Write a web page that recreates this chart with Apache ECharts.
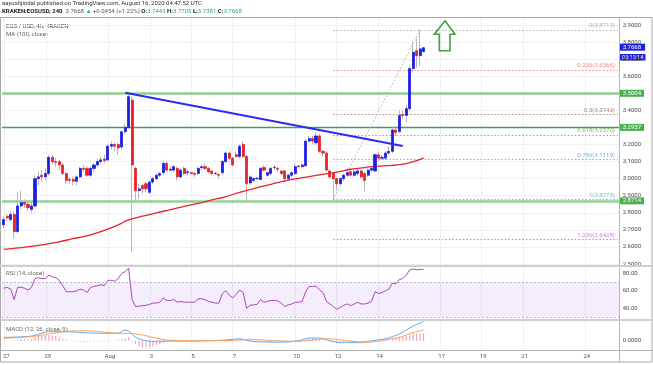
<!DOCTYPE html>
<html><head><meta charset="utf-8">
<script src="https://cdn.jsdelivr.net/npm/echarts/dist/echarts.min.js"></script>
<style>html,body{margin:0;padding:0;background:#fff}#c{width:653px;height:365px}</style>
</head><body><div id="c"></div>
<script>
// ---- DATA ----
// 4h candles from Jul 27 00:00 to Aug 16 04:00 (UTC): [open, close, low, high]
const candles = [
[2.73,2.76,2.71,2.78],[2.78,2.77,2.75,2.79],[2.76,2.79,2.75,2.81],[2.79,2.69,2.65,2.81],[2.69,2.84,2.68,2.92],
[2.84,2.86,2.82,2.93],[2.86,2.85,2.83,2.88],[2.85,2.83,2.81,2.87],[2.82,2.84,2.80,2.86],[2.84,3.00,2.83,3.02],
[3.00,3.01,2.96,3.04],[3.02,3.01,2.98,3.05],[3.01,3.03,2.99,3.06],[3.03,3.125,3.02,3.14],[3.125,3.10,3.08,3.14],
[3.10,3.095,3.07,3.12],[3.10,3.08,3.05,3.11],[3.08,3.03,3.02,3.09],[3.03,2.99,2.97,3.04],[2.995,2.99,2.97,3.01],
[2.995,2.985,2.96,3.01],[2.985,3.01,2.96,3.02],[3.01,3.06,3.00,3.07],[3.06,3.055,3.04,3.08],[3.06,3.02,3.01,3.07],
[3.02,3.06,3.01,3.07],[3.06,3.08,3.04,3.09],[3.08,3.10,3.07,3.12],[3.10,3.11,3.09,3.13],[3.115,3.105,3.09,3.14],
[3.11,3.19,3.10,3.20],[3.19,3.20,3.17,3.22],[3.20,3.19,3.16,3.21],[3.20,3.18,3.14,3.21],[3.185,3.275,3.17,3.28],
[3.275,3.30,3.26,3.32],[3.30,3.48,3.29,3.50],[3.46,3.08,2.57,3.48],[3.06,2.93,2.86,3.07],[2.93,2.94,2.88,2.97],
[2.96,2.94,2.91,2.97],[2.97,2.94,2.92,2.98],[2.92,2.98,2.91,2.99],[2.98,3.00,2.97,3.01],[3.00,3.02,2.99,3.03],
[3.02,3.03,3.01,3.04],[3.035,3.09,3.02,3.10],[3.09,3.05,3.04,3.10],[3.05,3.055,3.04,3.07],[3.05,3.07,3.04,3.08],
[3.06,3.01,2.99,3.07],[3.01,3.05,3.00,3.06],[3.06,3.03,3.02,3.07],[3.035,3.04,3.02,3.05],[3.035,3.03,3.02,3.04],
[3.03,3.025,3.01,3.04],[3.03,3.06,3.02,3.07],[3.065,3.07,3.05,3.08],[3.07,3.06,3.05,3.09],[3.06,3.04,3.03,3.07],
[3.045,3.03,3.02,3.05],[3.03,3.032,3.02,3.04],[3.025,3.02,3.00,3.03],[3.035,3.10,3.02,3.11],[3.10,3.15,3.09,3.16],
[3.15,3.12,3.11,3.16],[3.12,3.08,3.07,3.13],[3.14,3.13,3.12,3.16],[3.13,3.19,3.12,3.20],[3.20,3.13,3.12,3.22],
[3.13,2.97,2.865,3.14],[2.975,3.01,2.96,3.02],[2.99,3.00,2.98,3.01],[3.00,3.002,2.99,3.01],[2.995,3.06,2.99,3.07],
[3.065,3.05,3.04,3.08],[3.02,3.035,3.01,3.04],[3.03,3.06,3.02,3.07],[3.065,3.066,3.05,3.08],[3.06,3.055,3.04,3.07],
[3.045,3.03,3.02,3.05],[3.045,3.00,2.98,3.05],[3.00,3.02,2.99,3.03],[3.02,3.035,3.01,3.04],[3.03,3.07,3.02,3.09],
[3.075,3.07,3.06,3.08],[3.07,3.08,3.06,3.09],[3.075,3.22,3.07,3.23],[3.22,3.235,3.21,3.25],[3.235,3.22,3.20,3.25],
[3.21,3.25,3.20,3.27],[3.25,3.16,3.15,3.26],[3.16,3.15,3.13,3.17],[3.15,3.05,3.04,3.16],[3.045,3.01,3.00,3.05],
[3.03,3.00,2.8773,3.04],[3.00,2.97,2.93,3.01],[2.97,3.00,2.96,3.01],[3.00,3.02,2.99,3.03],[3.02,3.035,3.01,3.045],
[3.04,3.02,3.01,3.05],[3.02,3.04,3.01,3.05],[3.03,3.045,3.02,3.055],[3.045,3.01,3.00,3.05],[3.03,2.99,2.925,3.04],
[3.02,3.05,3.01,3.06],[3.05,3.06,3.04,3.07],[3.045,3.14,3.04,3.15],[3.14,3.12,3.10,3.16],[3.12,3.125,3.11,3.14],
[3.12,3.15,3.11,3.16],[3.15,3.16,3.14,3.19],[3.16,3.285,3.15,3.30],[3.285,3.27,3.25,3.30],[3.275,3.37,3.27,3.40],
[3.375,3.37,3.35,3.40],[3.37,3.41,3.33,3.43],[3.41,3.645,3.40,3.66],[3.645,3.74,3.62,3.80],[3.75,3.72,3.65,3.82],
[3.72,3.76,3.66,3.8712],[3.7443,3.7668,3.7381,3.7705]
];
// MA(100, close) read at sampled candle indices
const ma100 = [[0,2.586],[4,2.594],[8,2.603],[12,2.615],[16,2.63],[20,2.648],[24,2.665],[28,2.69],[32,2.72],[36,2.758],
[40,2.78],[44,2.80],[48,2.818],[52,2.838],[56,2.855],[60,2.875],[64,2.895],[68,2.92],[72,2.942],[76,2.962],[80,2.982],
[84,2.998],[88,3.012],[92,3.025],[96,3.038],[100,3.055],[104,3.065],[108,3.072],[112,3.078],[116,3.088],[119,3.105],[121,3.122]];
const trendLine = [[35,3.5026],[115,3.191]];
const levelValues = [3.5004, 3.2957, 2.8714];
const fibAnchors = [[95,2.8773],[120,3.8712]];
const fibRatios = ['0','0.236','0.5','0.618','0.786','1','1.236'];
const fibValues = [3.8712,3.6366,3.3743,3.2570,3.1119,2.8773,2.6428];
const lastPrice = 3.7668;
const countdown = '03:12:14';
const rsi = [63,64,62,50,64,64,63,61,64,74,75,74,74,78,76,75,72,66,59,59,
59,60,62,61,58,64,65,66,67,66,72,72,71,74,80,82,86,50,42,42.5,
43,43.5,44.5,46,46,47,52,49,49,50,47,48,47,47,47,47,51,51,50,48,
47,46,46,57,60,55,52,56,61,58,40,43.5,44,44.5,50,47,48,49,49,48.5,
46,42,44,45,47,47,48,59,65,65,65.5,61,58,48,45,42,39,41,43.5,45,
43,45,47,45,45,46,48,59,57,58,60,62,68.6,68,73,74,78,84,85,84,84.5,84.6];
const macdLine = [[0,0.029],[4,0.032],[8,0.04],[13,0.078],[18,0.078],[23,0.07],[28,0.064],[33,0.066],[35,0.093],[36,0.085],
[38,0.029],[40,0.006],[43,-0.006],[47,-0.003],[56,-0.003],[64,0.006],[68,0.017],[71,-0.003],[76,-0.012],[81,-0.012],
[85,0],[88,0.023],[91,0.023],[94,0],[97,-0.017],[103,-0.017],[106,0],[110,0.017],[114,0.058],[118,0.128],[121,0.165]];
const signalLine = [[0,0.02],[8,0.035],[13,0.058],[18,0.081],[23,0.087],[28,0.078],[33,0.064],[36,0.064],[40,0.049],[43,0.029],
[47,0.006],[56,0],[64,0],[71,0.012],[78,0],[85,-0.006],[91,0.014],[94,0.017],[99,0],[103,-0.012],[106,-0.012],[110,0.006],
[114,0.029],[118,0.07],[121,0.093]];
const hist = [0.005,0.005,0.005,0.005,
0.01,0.015,0.015,0.012,0.015,
0.03,0.04,0.045,0.045,0.05,0.045,0.04,0.035,
0.02,0.01,0,-0.005,
-0.01,-0.01,-0.012,-0.012,-0.01,-0.01,-0.008,-0.006,-0.004,
0.002,0.004,0.004,0.008,0.012,0.02,0.03,
-0.01,-0.03,-0.045,-0.055,-0.06,-0.055,-0.05,-0.04,-0.03,-0.02,
-0.01,-0.008,-0.006,-0.005,-0.004,-0.003,-0.002,-0.002,-0.001,0,0.001,0.001,0,-0.001,
0.002,0.004,0.008,0.01,0.01,0.008,0.008,0.01,0.006,-0.005,
-0.008,-0.01,-0.01,-0.01,-0.01,-0.012,-0.012,-0.01,-0.01,-0.01,-0.012,-0.01,-0.008,-0.006,-0.004,-0.002,
0.008,0.014,0.015,0.016,0.012,0.008,0,
-0.008,-0.012,-0.016,-0.016,-0.015,-0.014,-0.014,-0.012,-0.01,-0.01,-0.01,-0.008,-0.004,
0.006,0.01,0.012,0.014,0.016,0.025,0.028,0.035,0.038,0.042,0.055,0.062,0.062,0.063,0.065];
const tickDays = [0,2,5,7,9,11,14,16,18,21,23,25,28];
const tickLabels = ['27','29','Aug','3','5','7','10','12','14','17','19','21','24'];
const nSlots = 178;

// ---- BUILD ----
const start = Date.UTC(2020,6,27,0,0);
const cats = [];
for (let i = 0; i < nSlots; i++) cats.push(new Date(start + i*4*3600e3).toISOString().slice(0,16));
const tickIdx = {};
tickDays.forEach((d,k)=>{ tickIdx[d*6] = tickLabels[k]; });
const isTick = (i)=> tickIdx[i] !== undefined;

const FONT = 'Roboto, "Liberation Sans", sans-serif';
const GL = 2, GR = 653 - (2 + nSlots*3.47);
const gridLine = '#eef0f3';
const upC = '#1f1fe3', dnC = '#e8222b';

const wickData = candles.map(c=>[c[0],c[1],c[2],c[3]]);
const bodyData = candles.map(c=>[c[0],c[1],Math.min(c[0],c[1]),Math.max(c[0],c[1])]);

const fibColors = ['#9a9a9a','#ef6a6a','#8d6e63','#4caf50','#4aa3df','#5aa5e0','#b565cc'];
const fibMarks = fibValues.map((v,k)=>[
  {coord:[fibAnchors[0][0], v], lineStyle:{color:fibColors[k], type:[1.5,2], width:1, opacity:0.8},
   label:{show:true, position:'insideEndTop', distance:[3,1], formatter: fibRatios[k]+'('+v.toFixed(4)+')',
     color:fibColors[k], fontSize:6, fontFamily:FONT}},
  {coord:[nSlots-1, v]}
]);
const levelStyles = [
  {color:'rgba(76,175,80,0.6)', width:2.5},
  {color:'#43a047', width:1.3},
  {color:'rgba(76,175,80,0.6)', width:2.5}
];
const levelMarks = levelValues.map((v,k)=>({
  yAxis:v, lineStyle:Object.assign({type:'solid'}, levelStyles[k]),
  label:{show:true, position:'end', distance:0, formatter:v.toFixed(4), color:'#fff',
    backgroundColor:'#4caf50', padding:[1,3,0,3], fontSize:6, lineHeight:6, fontFamily:FONT}
}));
levelMarks.push({
  yAxis:lastPrice, lineStyle:{width:1, color:'rgba(255,255,255,0)'},
  label:{show:true, position:'end', distance:0, formatter:lastPrice.toFixed(4), color:'#fff',
    backgroundColor:'#1e22e0', padding:[1,4,0,3], fontSize:6, lineHeight:6, fontFamily:FONT}
});

function xAx(grid, show){
  return {type:'category', gridIndex:grid, data:cats, boundaryGap:true,
    axisLine:{show:false}, axisTick:{show:false},
    axisLabel:{show:show, interval:(i)=>isTick(i), formatter:(v,i)=>tickIdx[i]||'', color:'#555',
      fontSize:6, margin:3, fontFamily:FONT},
    splitLine:{show:show, interval:(i)=>isTick(i), lineStyle:{color:gridLine, width:1}}};
}

const option = {
  animation:false,
  backgroundColor:'#fff',
  grid:[
    {left:GL, right:GR, top:17, bottom:365-350},
    {left:GL, right:GR, top:25, height:239},
    {left:GL, right:GR, top:264.6, height:52.5},
    {left:GL, right:GR, top:317.7, height:34.5}
  ],
  xAxis:[xAx(0,true), xAx(1,false), xAx(2,false), xAx(3,false)],
  yAxis:[
    {gridIndex:0, show:false, min:0, max:1},
    {gridIndex:1, position:'right', min:2.5, max:3.9, interval:0.1, axisLine:{show:false}, axisTick:{show:false},
      axisLabel:{formatter:(v)=>v.toFixed(4), color:'#4a4a4a', fontSize:6, margin:3, fontFamily:FONT},
      splitLine:{lineStyle:{color:gridLine}}},
    {gridIndex:2, position:'right', min:30, max:90, interval:10, axisLine:{show:false}, axisTick:{show:false},
      axisLabel:{formatter:(v)=>([40,60,80].indexOf(Math.round(v))>=0 ? v.toFixed(2) : ''), color:'#4a4a4a', fontSize:6, margin:3, fontFamily:FONT},
      splitLine:{show:false}},
    {gridIndex:3, position:'right', min:-0.1, max:0.2, interval:0.1, axisLine:{show:false}, axisTick:{show:false},
      axisLabel:{formatter:(v)=>(Math.abs(v)<1e-9 ? '0.0000' : ''), color:'#4a4a4a', fontSize:6, margin:3, fontFamily:FONT},
      splitLine:{show:false}}
  ],
  series:[
    {type:'candlestick', name:'wick', xAxisIndex:1, yAxisIndex:1, data:wickData, barWidth:1,
      itemStyle:{color:'#b8b8b8', color0:'#b8b8b8', borderColor:'#b8b8b8', borderColor0:'#b8b8b8', borderWidth:1}, z:2},
    {type:'line', name:'MA', xAxisIndex:1, yAxisIndex:1, data:ma100, showSymbol:false, symbol:'none', smooth:0.3,
      lineStyle:{color:'#e8222b', width:1.3}, z:3,
      markLine:{symbol:['none','none'], silent:true, data:levelMarks.concat(fibMarks), z:1}},
    {type:'candlestick', name:'body', xAxisIndex:1, yAxisIndex:1, data:bodyData, barWidth:2.6,
      itemStyle:{color:upC, color0:dnC, borderColor:upC, borderColor0:dnC, borderWidth:0.8}, z:4},
    {type:'line', name:'trend', xAxisIndex:1, yAxisIndex:1, data:trendLine, symbol:'none',
      lineStyle:{color:'#2c2cf0', width:2}, z:5},
    {type:'line', name:'fibdiag', xAxisIndex:1, yAxisIndex:1, data:fibAnchors, symbol:'none',
      lineStyle:{color:'#b0b0b0', width:1, type:[1.5,2]}, z:1},
    {type:'line', name:'RSI', xAxisIndex:2, yAxisIndex:2, data:rsi, symbol:'none',
      lineStyle:{color:'#ab47bc', width:1}, clip:false,
      markArea:{silent:true, itemStyle:{color:'rgba(155,89,230,0.11)'}, data:[[{yAxis:30},{yAxis:70}]]},
      markLine:{silent:true, symbol:['none','none'], label:{show:false},
        lineStyle:{color:'#bdbdbd', type:[2,2], width:1}, data:[{yAxis:70},{yAxis:30}]}},
    {type:'bar', name:'hist', xAxisIndex:3, yAxisIndex:3, data:hist, barWidth:1,
      itemStyle:{color:'#f48fb1'}},
    {type:'line', name:'MACD', xAxisIndex:3, yAxisIndex:3, data:macdLine, symbol:'none', smooth:0.2,
      lineStyle:{color:'#5aa9f2', width:1}},
    {type:'line', name:'Signal', xAxisIndex:3, yAxisIndex:3, data:signalLine, symbol:'none', smooth:0.2,
      lineStyle:{color:'#ff9f55', width:1}}
  ],
  graphic:[
    {type:'rect', shape:{x:0.5, y:17.5, width:651.5, height:344.5}, style:{fill:'none', stroke:'#a8a8a8', lineWidth:1}, z:100, silent:true},
    {type:'line', shape:{x1:619.5, y1:17, x2:619.5, y2:362}, style:{stroke:'#b5b5b5', lineWidth:1}, z:100},
    {type:'line', shape:{x1:0, y1:266, x2:652, y2:266}, style:{stroke:'#cfcfcf', lineWidth:2}, z:100},
    {type:'line', shape:{x1:0, y1:320, x2:652, y2:320}, style:{stroke:'#cfcfcf', lineWidth:2}, z:100},
    {type:'line', shape:{x1:0, y1:350.5, x2:652, y2:350.5}, style:{stroke:'#b5b5b5', lineWidth:1}, z:100},
    {type:'text', x:2, y:3.5, style:{text:'aayushjindal published on TradingView.com, August 16, 2020 04:47:52 UTC',
      fill:'#333', font:'6px '+FONT, textVerticalAlign:'middle'}},
    {type:'text', x:2, y:11, style:{
      text:'{b|KRAKEN:EOSUSD, 240}  {n|3.7668} {g|▲} {n|+0.0454 (+1.22%)} {b|O:}{g|3.7443} {b|H:}{g|3.7705} {b|L:}{g|3.7381} {b|C:}{g|3.7668}',
      textVerticalAlign:'middle', font:'6px '+FONT,
      rich:{b:{fill:'#222', fontWeight:'bold', fontSize:6, fontFamily:FONT},
            n:{fill:'#555', fontSize:6, fontFamily:FONT},
            g:{fill:'#26a69a', fontSize:6, fontFamily:FONT}}}},
    {type:'text', x:6, y:26, style:{text:'EOS / USD, 4h, KRAKEN', fill:'#444', font:'6px '+FONT, textVerticalAlign:'middle'}},
    {type:'text', x:6, y:34.5, style:{text:'MA (100, close)', fill:'#666', font:'6px '+FONT, textVerticalAlign:'middle'}},
    {type:'text', x:6, y:273.5, style:{text:'RSI (14, close)', fill:'#666', font:'6px '+FONT, textVerticalAlign:'middle'}, z:50},
    {type:'text', x:6, y:329.5, style:{text:'MACD (12, 26, close, 9)', fill:'#666', font:'6px '+FONT, textVerticalAlign:'middle'}, z:50},
    {type:'polygon', shape:{points:[[445,20.7],[455,34.3],[450,34.3],[450,50.7],[439.3,50.7],[439.3,34.3],[434.3,34.3]]},
      style:{fill:'none', stroke:'#43a047', lineWidth:1.6}, z:60},
    {type:'group', x:620, y:54, z:60, children:[
      {type:'rect', shape:{x:0, y:0, width:25.5, height:6.5}, style:{fill:'#1e22e0'}},
      {type:'text', x:12.7, y:3.4, style:{text:countdown, fill:'#fff', font:'5.5px '+FONT, textAlign:'center', textVerticalAlign:'middle'}}
    ]}
  ]
};
const chart = echarts.init(document.getElementById('c'), null, {renderer:'canvas'});
chart.setOption(option);
</script>
</body></html>
